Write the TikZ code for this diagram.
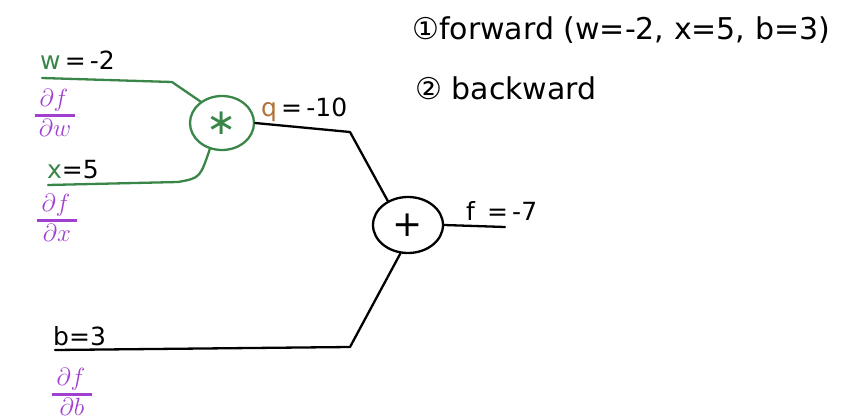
\documentclass[tikz,border=0pt]{standalone}
\usepackage{amsmath}
\usepackage{fontspec}
\setmainfont{DejaVu Sans}
\usetikzlibrary{shapes.geometric}
\definecolor{penGreen}{RGB}{58,134,72}
\definecolor{penPurple}{RGB}{160,64,208}
\definecolor{penOrange}{RGB}{178,112,52}
\newcommand{\gradfrac}[2]{$\genfrac{}{}{2.4pt}{1}{\mkern5mu\textstyle\partial #1\mkern5mu}{\textstyle\partial #2}$}
\tikzset{
  greenwire/.style={draw=penGreen, line width=2.3pt, line join=round, line cap=round},
  blackwire/.style={draw=black, line width=2.3pt, line join=round, line cap=round},
  gate/.style={ellipse, line width=2.3pt, inner sep=0pt, font=\fontsize{36}{38}\selectfont},
  lbl/.style={anchor=west, inner sep=0pt, font=\fontsize{25}{27}\selectfont},
  grad/.style={inner sep=0pt, text=penPurple, font=\fontsize{24}{26}\selectfont},
  note/.style={anchor=west, inner sep=0pt, font=\fontsize{30}{32}\selectfont}
}
\begin{document}
\begin{tikzpicture}[x=1pt,y=1pt]
\useasboundingbox (0,0) rectangle (846,-420);
% gates
\node[gate, draw=penGreen, text=penGreen, minimum width=64pt, minimum height=54pt] (mul) at (222,-123) {∗};
\node[gate, draw=black, minimum width=70pt, minimum height=56pt] (add) at (408,-225) {+};
% free ends
\coordinate (wstart) at (42,-78);
\coordinate (wbend) at (172,-82);
\coordinate (xstart) at (48,-185);
\coordinate (xbend) at (178,-182);
\coordinate (qbend) at (350,-132);
\coordinate (bstart) at (55,-350);
\coordinate (bbend) at (350,-347);
\coordinate (fend) at (505,-227);
% wires
\draw[greenwire] (wstart) -- (wbend) -- (mul.135);
\draw[greenwire] (xstart) -- (xbend) .. controls (200,-178) .. (mul.245);
\draw[blackwire] (mul.east) -- (qbend) -- (add.130);
\draw[blackwire] (bstart) -- (bbend) -- (add.255);
\draw[blackwire] (add.east) -- (fend);
% labels
\node[lbl] (wl) at (40,-60) {\textcolor{penGreen}{w}\,=\,-2};
\node[lbl] (xl) at (47,-170) {\textcolor{penGreen}{x}=5};
\node[lbl] (ql) at (261,-110) {\textcolor{penOrange}{q}\,=\,-10};
\node[lbl] (fl) at (466,-211) {f\, =\,-7};
\node[lbl] (bl) at (53,-336) {b=3};
% gradients
\node[grad] (dw) at (55,-113) {\gradfrac{f}{w}};
\node[grad] (dx) at (57,-218) {\gradfrac{f}{x}};
\node[grad] (db) at (72,-392) {\gradfrac{f}{b}};
% notes
\node[note] (n1) at (412,-30) {①forward (w=-2, x=5, b=3)};
\node[note] (n2) at (415,-88) {② backward};
\end{tikzpicture}
\end{document}
